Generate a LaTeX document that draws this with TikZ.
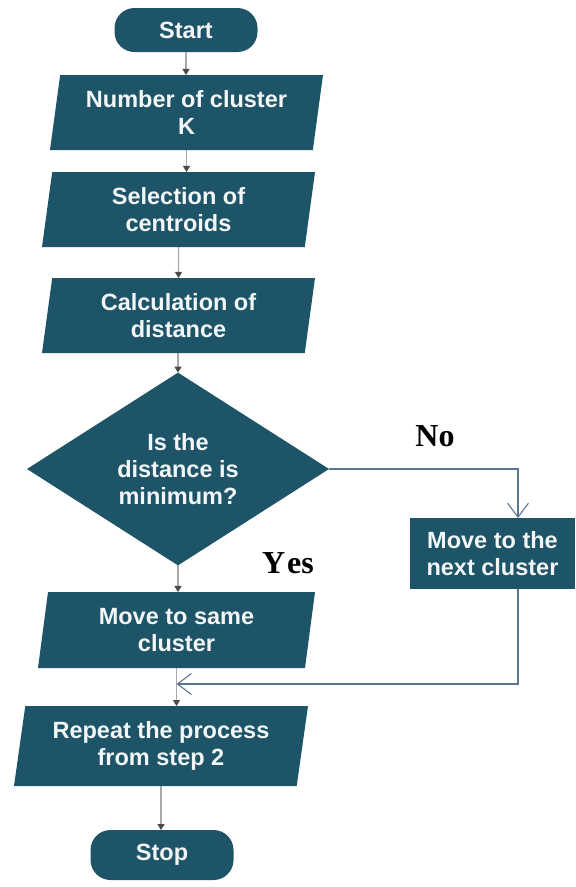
\documentclass[tikz,border=0pt]{standalone}
\usepackage{fontspec}
\setmainfont{Liberation Sans}
\newfontfamily\labelfont{Liberation Serif}
\usetikzlibrary{shapes.geometric,arrows.meta}

\definecolor{boxfill}{HTML}{1E5467}
\definecolor{boxtext}{HTML}{F2F6F7}
\definecolor{flowline}{HTML}{A8A8A8}
\definecolor{flowtip}{HTML}{4A4A4A}
\definecolor{loopline}{HTML}{5B7592}

\tikzset{
  basebox/.style={fill=boxfill, text=boxtext, draw=none, inner sep=0pt, outer sep=0pt,
    align=center, font=\fontsize{23.5}{27}\selectfont\bfseries},
  terminal/.style={basebox, rectangle, rounded corners=20pt, minimum width=143pt, minimum height=44pt},
  iobox/.style={basebox, trapezium, trapezium left angle=77, trapezium right angle=103,
    trapezium stretches body, minimum height=75pt, minimum width=273pt},
  decision/.style={basebox, diamond, minimum width=302pt, minimum height=158pt},
  process/.style={basebox, rectangle, minimum width=165pt, minimum height=71pt},
  flow/.style={draw=flowline, line width=1.3pt,
    -{Triangle[length=6pt,width=7pt,color=flowtip]}},
  loopflow/.style={draw=loopline, line width=1.1pt,
    -{Straight Barb[length=14pt,width=21pt,line width=1.1pt]}},
  answer/.style={font=\labelfont\fontsize{32}{32}\selectfont\bfseries, text=black, inner sep=0pt},
}

\begin{document}
\begin{tikzpicture}[x=1pt,y=-1pt]
  \useasboundingbox[fill=white] (0,0) rectangle (576,887);

  % main column
  \node[terminal] (start) at (186,30) {Start};
  \node[iobox] (k) at (186.5,112.5) {Number of cluster\\K};
  \node[iobox] (cent) at (178.5,209.5) {Selection of\\centroids};
  \node[iobox] (dist) at (178.5,315.5) {Calculation of\\distance};
  \node[decision] (test) at (178,469) {Is the\\distance is\\minimum?};
  \node[iobox, minimum height=76pt, minimum width=277pt] (same) at (176.5,630) {Move to same\\cluster};
  \node[iobox, minimum height=80pt, minimum width=294pt] (again) at (161,746) {Repeat the process\\from step 2};
  \node[terminal, minimum height=50pt] (stop) at (162,855) {Stop};

  % side branch
  \node[process] (next) at (492.5,553.5) {Move to the\\next cluster};

  % branch labels
  \node[answer] (no) at (435,436) {No};
  \node[answer] (yes) at (288,563) {Y\kern2pt es};

  % straight-down connectors
  \draw[flow] (start.south) -- (start.south |- k.north);
  \draw[flow] (k.south) -- (k.south |- cent.north);
  \draw[flow] (cent.south) -- (dist.north);
  \draw[flow] (test.north |- dist.south) -- (test.north);
  \draw[flow] (test.south) -- (test.south |- same.north);
  \draw[flow] (same.south) -- (same.south |- again.north);
  \draw[flow] (again.south) -- (again.south |- stop.north);

  % "No" branch and return path
  \coordinate (nextin) at ([xshift=25.5pt]next.north);
  \coordinate (nextout) at ([xshift=25.5pt]next.south);
  \coordinate (back) at (nextout |- 0,684);
  \draw[loopflow] (test.east) -| (nextin);
  \draw[loopflow] (nextout) -- (back) -- (back -| same.south);
\end{tikzpicture}
\end{document}
